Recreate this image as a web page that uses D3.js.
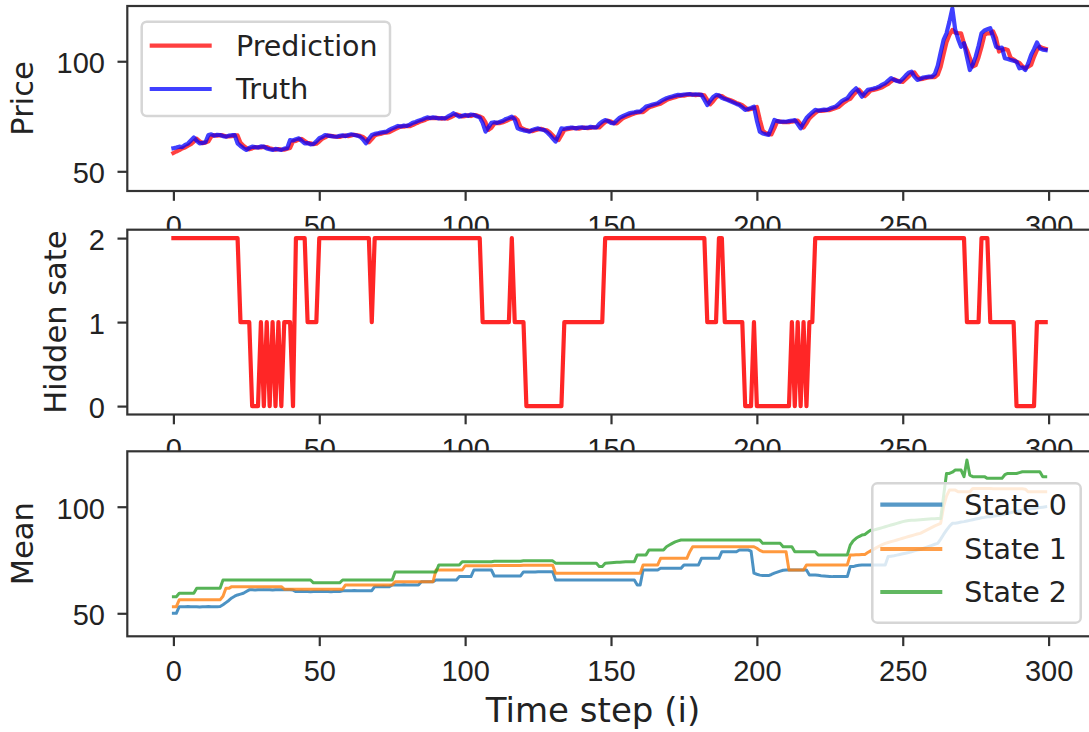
<!DOCTYPE html>
<html>
<head>
<title>HMM price prediction</title>
<script src="https://d3js.org/d3.v7.min.js"></script>
<style>
    body { margin: 0; background: white; }
    svg { display: block; width: 1089px; height: 732px; font-family: 'DejaVu Sans', sans-serif; }
    .spine { fill: none; stroke: #333; stroke-width: 2.2; }
    .tick line { stroke: #333; stroke-width: 2.2; }
    .tick text { fill: #222; font-size: 29px; }
</style>
</head>
<body>
<svg></svg>
<script>
// values, one per time step (0..299)
let truth = [
    60.5, 60.8, 61.2, 61.0, 62.0, 62.6, 64.0, 65.4, 63.8, 62.7,
    62.9, 63.2, 66.5, 66.8, 66.2, 66.6, 66.5, 66.0, 65.7, 66.2,
    66.4, 66.5, 62.7, 61.5, 60.5, 59.7, 60.6, 61.2, 61.0, 60.8,
    61.3, 61.2, 60.4, 60.0, 59.7, 60.2, 59.9, 59.7, 60.3, 60.5,
    64.2, 64.0, 64.6, 65.0, 63.8, 62.7, 62.8, 62.2, 62.4, 63.6,
    65.0, 65.6, 66.5, 66.2, 66.0, 65.8, 65.7, 66.1, 66.3, 66.0,
    66.5, 66.8, 66.5, 66.2, 65.7, 64.5, 62.7, 64.8, 66.5, 67.0,
    67.2, 67.6, 67.8, 68.0, 68.8, 69.5, 70.0, 70.6, 70.4, 70.8,
    70.6, 71.2, 72.0, 72.4, 73.0, 73.4, 74.0, 74.5, 74.2, 74.5,
    74.3, 74.0, 74.2, 74.0, 74.8, 75.5, 76.4, 75.6, 74.8, 75.2,
    75.6, 75.2, 75.8, 75.6, 75.0, 74.5, 72.0, 68.0, 70.0, 72.0,
    72.3, 72.0, 72.5, 73.0, 73.8, 74.2, 74.8, 73.5, 69.5, 69.0,
    68.6, 68.4, 68.0, 68.8, 69.2, 69.5, 69.0, 68.8, 67.8, 66.5,
    65.0, 63.5, 66.5, 69.5, 69.3, 69.6, 69.8, 69.8, 69.5, 69.9,
    70.0, 69.7, 69.8, 70.2, 70.0, 70.0, 71.5, 72.6, 73.3, 72.8,
    72.0, 71.8, 73.2, 74.4, 75.0, 75.6, 76.2, 76.6, 76.8, 77.1,
    77.1, 78.2, 79.4, 79.8, 80.2, 80.6, 80.9, 81.8, 82.6, 83.2,
    83.6, 84.0, 84.4, 84.7, 84.6, 84.9, 85.0, 85.1, 84.8, 85.0,
    84.9, 84.7, 82.5, 80.1, 82.0, 83.8, 84.7, 84.5, 83.4, 82.8,
    82.4, 81.8, 81.2, 80.6, 80.1, 79.0, 77.9, 78.3, 78.8, 79.4,
    73.0, 68.0, 67.2, 66.8, 66.5, 69.8, 73.3, 72.8, 72.5, 72.6,
    72.5, 72.8, 73.0, 73.3, 71.5, 69.5, 72.0, 74.2, 75.6, 76.8,
    77.9, 77.6, 77.8, 78.0, 77.9, 78.5, 79.0, 79.4, 80.6, 81.8,
    82.6, 83.2, 85.0, 86.5, 87.7, 86.0, 83.9, 85.5, 87.0, 87.3,
    87.6, 88.0, 88.5, 89.4, 90.0, 91.2, 92.3, 91.6, 91.0, 90.7,
    92.0, 93.5, 94.8, 95.3, 93.0, 91.5, 92.0, 92.6, 92.8, 93.0,
    93.0, 94.2, 98.0, 104.0, 109.7, 112.7, 118.0, 124.0, 114.2, 110.0,
    106.6, 108.2, 102.0, 96.0, 98.5, 102.1, 107.0, 112.7, 114.0, 114.5,
    115.0, 111.0, 106.6, 106.0, 106.2, 101.4, 101.0, 100.6, 100.2, 99.8,
    96.8, 97.2, 96.0, 99.0, 102.9, 105.5, 108.5, 105.9, 105.3, 105.1
];
let prediction = [
    58.3, 59.0, 59.6, 60.4, 60.8, 61.6, 62.3, 63.5, 64.8, 63.6,
    62.8, 63.0, 63.6, 65.8, 66.4, 66.2, 66.4, 66.3, 65.9, 65.8,
    66.0, 66.3, 66.3, 63.0, 61.6, 60.6, 60.0, 60.4, 60.9, 60.9,
    60.8, 61.1, 61.0, 60.5, 60.1, 59.8, 60.1, 59.9, 59.8, 60.2,
    60.6, 63.6, 63.8, 64.4, 64.7, 63.8, 62.9, 62.7, 62.3, 62.5,
    63.5, 64.8, 65.4, 66.2, 66.1, 65.9, 65.7, 65.6, 66.0, 66.2,
    66.0, 66.3, 66.6, 66.4, 66.1, 65.6, 64.6, 63.2, 64.6, 66.2,
    66.8, 67.0, 67.4, 67.6, 67.8, 68.5, 69.2, 69.8, 70.3, 70.3,
    70.6, 70.5, 71.0, 71.7, 72.2, 72.8, 73.2, 73.8, 74.2, 74.1,
    74.3, 74.2, 73.9, 74.1, 73.9, 74.5, 75.2, 75.9, 75.5, 74.9,
    75.1, 75.4, 75.1, 75.6, 75.4, 74.9, 74.3, 72.2, 68.8, 69.8,
    71.6, 72.0, 71.9, 72.3, 72.8, 73.5, 74.0, 74.5, 73.3, 70.0,
    69.2, 68.7, 68.4, 68.2, 68.6, 69.0, 69.3, 68.9, 68.6, 67.7,
    66.4, 65.0, 64.2, 66.4, 68.8, 69.1, 69.4, 69.6, 69.6, 69.4,
    69.7, 69.8, 69.6, 69.7, 70.0, 69.9, 69.9, 71.2, 72.3, 73.0,
    72.6, 71.9, 71.8, 72.9, 74.0, 74.7, 75.2, 75.8, 76.3, 76.6,
    76.9, 76.9, 77.9, 79.0, 79.5, 79.9, 80.3, 80.7, 81.5, 82.3,
    82.9, 83.3, 83.7, 84.1, 84.4, 84.4, 84.7, 84.8, 84.9, 84.6,
    84.8, 84.7, 84.5, 82.4, 80.4, 81.8, 83.5, 84.3, 84.2, 83.3,
    82.7, 82.3, 81.7, 81.1, 80.6, 80.0, 79.0, 78.0, 78.3, 78.7,
    79.2, 73.5, 68.5, 67.4, 67.0, 66.8, 69.6, 72.8, 72.6, 72.3,
    72.4, 72.3, 72.6, 72.8, 73.0, 71.4, 69.9, 71.8, 74.0, 75.3,
    76.5, 77.5, 77.4, 77.6, 77.8, 77.8, 78.3, 78.8, 79.2, 80.3,
    81.4, 82.3, 82.9, 84.6, 86.0, 87.1, 85.6, 84.2, 85.3, 86.7,
    87.0, 87.3, 87.7, 88.2, 89.0, 89.7, 90.8, 91.8, 91.3, 90.8,
    90.6, 91.8, 93.1, 94.4, 94.9, 93.0, 91.8, 92.0, 92.4, 92.6,
    92.8, 92.8, 93.9, 97.5, 103.2, 108.6, 111.9, 114.2, 113.0, 112.8,
    112.7, 108.0, 105.1, 101.5, 97.6, 98.2, 101.8, 106.5, 111.9, 112.7,
    112.7, 113.5, 110.5, 104.4, 105.2, 105.6, 105.1, 101.5, 100.8, 99.8,
    99.2, 97.8, 96.8, 97.5, 98.3, 102.0, 105.0, 106.6, 106.0, 105.6
];
// hidden state as runs: [state, number of steps]
let hiddenRuns = [
    [2, 23], [1, 4], [0, 3],
    [1, 1], [0, 1], [1, 1], [0, 1], [1, 1], [0, 1], [1, 1], [0, 1],
    [1, 3], [0, 1], [2, 4], [1, 4], [2, 18], [1, 1], [2, 37], [1, 10],
    [2, 1], [1, 4], [0, 13], [1, 14], [2, 35], [1, 4], [2, 2], [1, 7],
    [0, 3], [1, 1], [0, 12],
    [1, 1], [0, 1], [1, 1], [0, 1], [1, 1], [0, 1],
    [1, 2], [2, 52], [1, 5], [2, 3], [1, 9], [0, 7], [1, 4]
];
let meanState0 = [
    50.0, 50.0, 53.1, 53.1, 53.1, 53.2, 53.1, 53.1, 53.1, 53.0,
    53.1, 53.1, 53.2, 53.1, 53.1, 53.1, 53.2, 54.0, 55.0, 56.0,
    57.2, 58.0, 58.6, 59.0, 59.4, 60.2, 61.0, 61.0, 60.9, 61.0,
    61.0, 61.1, 61.0, 61.0, 60.9, 61.0, 61.0, 61.0, 61.1, 61.0,
    61.0, 60.9, 60.2, 60.2, 60.3, 60.2, 60.2, 60.1, 60.2, 60.2,
    60.2, 60.3, 60.2, 60.2, 60.1, 60.2, 60.2, 60.2, 60.6, 60.6,
    60.6, 60.6, 60.7, 60.6, 60.6, 60.6, 60.6, 60.6, 60.6, 62.5,
    62.5, 62.5, 62.6, 62.5, 62.5, 63.3, 63.3, 63.3, 63.3, 63.4,
    63.3, 63.3, 63.3, 63.3, 63.3, 64.8, 64.8, 64.8, 64.8, 64.8,
    65.6, 65.6, 65.6, 65.6, 65.6, 65.6, 65.6, 65.6, 67.2, 67.2,
    67.2, 67.2, 67.2, 70.3, 70.3, 70.3, 70.3, 70.3, 70.3, 70.3,
    67.5, 67.5, 67.5, 67.5, 67.5, 67.5, 67.5, 67.5, 67.5, 67.5,
    69.4, 69.4, 69.4, 69.4, 69.4, 69.5, 69.5, 69.5, 69.5, 69.5,
    69.5, 65.6, 65.6, 65.6, 65.6, 65.6, 65.6, 65.6, 65.6, 65.6,
    65.6, 65.6, 65.6, 65.6, 65.6, 65.6, 65.6, 65.6, 65.6, 65.6,
    65.6, 65.6, 65.6, 65.6, 65.6, 65.6, 65.6, 65.6, 65.6, 63.3,
    63.3, 70.3, 70.3, 70.3, 70.3, 70.3, 70.3, 71.1, 71.1, 71.1,
    71.1, 71.1, 71.1, 71.1, 71.1, 72.7, 72.7, 72.7, 72.7, 72.7,
    72.7, 75.8, 75.8, 75.8, 75.8, 75.8, 75.8, 75.8, 78.9, 78.9,
    78.9, 78.9, 78.9, 78.9, 79.7, 79.7, 79.7, 79.7, 79.2, 68.8,
    68.3, 67.9, 67.7, 67.7, 67.7, 68.2, 68.8, 69.3, 69.8, 70.2,
    70.3, 70.3, 70.3, 70.3, 70.3, 70.3, 70.3, 70.3, 68.0, 68.0,
    68.0, 67.8, 67.6, 67.5, 67.4, 67.3, 67.2, 67.2, 67.2, 67.2,
    67.2, 67.2, 71.9, 71.9, 72.3, 72.5, 72.6, 72.7, 72.7, 72.7,
    72.7, 72.7, 72.7, 72.7, 72.7, 76.6, 76.8, 77.0, 77.3, 77.6,
    77.9, 78.2, 78.5, 78.9, 79.3, 79.7, 79.9, 80.4, 80.9, 81.4,
    81.9, 82.4, 82.8, 84.8, 87.0, 89.0, 90.8, 92.2, 92.2, 92.5,
    92.8, 93.0, 93.3, 93.6, 93.9, 94.2, 94.5, 94.8, 95.0, 95.3,
    95.3, 95.5, 95.8, 96.0, 96.3, 96.6, 96.9, 97.2, 97.5, 97.8,
    98.1, 98.4, 98.6, 98.8, 99.0, 99.2, 99.4, 99.6, 99.8, 100.0
];
let meanState1 = [
    53.1, 53.1, 56.3, 56.3, 56.3, 56.3, 56.3, 56.3, 56.3, 56.3,
    56.3, 56.3, 56.3, 56.3, 56.3, 56.3, 56.3, 58.0, 61.7, 61.7,
    62.5, 62.5, 62.5, 62.5, 62.5, 62.5, 62.5, 62.5, 62.5, 62.5,
    62.5, 62.5, 62.5, 62.5, 62.5, 62.5, 62.5, 62.5, 61.3, 61.3,
    61.3, 61.3, 61.3, 61.3, 61.3, 61.3, 61.3, 61.3, 61.3, 61.3,
    61.3, 61.3, 61.3, 61.3, 61.3, 61.3, 61.3, 61.3, 61.3, 63.3,
    63.3, 63.3, 63.3, 63.3, 63.3, 63.3, 63.3, 63.3, 63.3, 63.3,
    63.3, 63.3, 63.3, 63.3, 63.3, 63.3, 64.8, 64.8, 64.8, 64.8,
    64.8, 64.8, 64.8, 64.8, 64.8, 64.8, 64.8, 64.8, 64.8, 64.8,
    70.3, 70.3, 70.3, 70.3, 70.3, 70.3, 70.3, 70.3, 70.3, 70.3,
    72.3, 72.3, 72.3, 72.3, 72.3, 72.3, 72.3, 72.3, 72.3, 72.3,
    72.4, 72.4, 72.4, 72.4, 72.4, 72.4, 72.4, 72.4, 72.4, 72.4,
    72.5, 72.5, 72.5, 72.5, 72.5, 72.5, 72.5, 72.5, 72.5, 72.5,
    72.5, 68.8, 68.8, 68.8, 68.8, 68.8, 68.8, 68.8, 68.8, 68.8,
    68.8, 68.8, 68.8, 68.8, 68.8, 68.8, 68.8, 68.8, 68.8, 68.8,
    68.8, 68.8, 68.8, 68.8, 68.8, 68.8, 68.8, 68.8, 68.8, 68.8,
    68.8, 72.7, 72.7, 72.7, 72.7, 72.7, 72.7, 75.8, 75.8, 75.8,
    75.8, 75.8, 75.8, 75.8, 75.8, 75.8, 75.8, 78.9, 81.2, 81.2,
    81.2, 81.2, 81.2, 81.2, 81.2, 81.2, 81.2, 81.2, 81.2, 81.2,
    81.2, 81.2, 81.2, 81.2, 81.2, 81.2, 81.2, 81.2, 81.2, 81.2,
    80.5, 79.5, 78.9, 78.9, 78.9, 78.9, 78.9, 78.9, 78.9, 78.9,
    78.9, 70.3, 70.3, 70.3, 70.3, 70.3, 70.3, 72.7, 72.7, 72.7,
    72.7, 72.7, 72.7, 72.7, 72.7, 72.7, 72.7, 72.7, 72.7, 72.7,
    72.7, 72.7, 77.4, 77.4, 77.5, 77.5, 77.6, 77.6, 78.5, 79.3,
    80.0, 80.8, 81.5, 82.2, 82.8, 83.2, 83.6, 84.0, 84.4, 84.8,
    85.2, 85.6, 86.0, 86.4, 86.8, 87.2, 87.5, 88.2, 88.9, 89.6,
    90.3, 91.0, 91.6, 92.2, 100.0, 105.0, 107.8, 107.8, 107.8, 107.0,
    107.0, 107.0, 107.0, 107.0, 108.6, 108.6, 108.6, 108.6, 108.6, 108.6,
    108.6, 108.4, 108.4, 108.4, 108.4, 108.4, 108.4, 108.4, 108.4, 108.4,
    108.4, 108.4, 108.2, 107.0, 107.0, 107.0, 107.0, 107.0, 107.0, 107.0
];
let meanState2 = [
    57.8, 57.8, 59.4, 59.4, 59.4, 59.4, 59.4, 59.4, 61.7, 61.7,
    61.7, 61.7, 61.7, 61.7, 61.7, 61.7, 61.7, 65.6, 65.6, 65.6,
    65.6, 65.6, 65.6, 65.6, 65.6, 65.6, 65.6, 65.6, 65.6, 65.6,
    65.6, 65.6, 65.6, 65.6, 65.6, 65.6, 65.6, 65.6, 65.6, 65.6,
    65.6, 65.6, 65.6, 65.6, 65.6, 65.6, 65.6, 65.6, 64.3, 64.3,
    64.3, 64.3, 64.3, 64.3, 64.3, 64.3, 64.3, 64.3, 65.6, 65.6,
    65.6, 65.6, 65.6, 65.6, 65.6, 65.6, 65.6, 65.6, 65.6, 65.6,
    65.6, 65.6, 65.6, 65.6, 65.6, 65.6, 69.4, 69.4, 69.4, 69.4,
    69.4, 69.4, 69.4, 69.4, 69.4, 69.4, 69.4, 69.4, 69.4, 69.4,
    69.4, 72.7, 72.7, 72.7, 72.7, 72.7, 72.7, 72.7, 72.7, 74.2,
    74.2, 74.2, 74.2, 74.2, 74.2, 74.2, 74.2, 74.2, 74.2, 74.2,
    74.4, 74.4, 74.4, 74.4, 74.4, 74.4, 74.4, 74.4, 74.4, 74.4,
    74.6, 74.6, 74.6, 74.6, 74.6, 74.6, 74.6, 74.6, 74.6, 74.6,
    74.6, 73.5, 73.5, 73.5, 73.5, 73.5, 73.5, 73.5, 73.5, 73.5,
    73.5, 73.5, 73.5, 73.5, 73.5, 73.5, 71.9, 71.9, 73.5, 73.6,
    73.7, 73.8, 73.9, 74.0, 74.1, 74.2, 74.2, 74.2, 74.2, 77.4,
    77.4, 77.4, 77.4, 79.7, 79.7, 79.7, 79.7, 79.7, 79.7, 81.2,
    82.0, 82.8, 83.5, 84.0, 84.4, 84.4, 84.4, 84.4, 84.4, 84.4,
    84.4, 84.4, 84.4, 84.4, 84.4, 84.4, 84.4, 84.4, 84.4, 84.4,
    84.4, 84.4, 84.4, 84.4, 84.4, 84.4, 84.4, 84.4, 84.4, 84.4,
    84.4, 84.4, 82.8, 82.8, 82.8, 82.8, 82.8, 82.8, 82.8, 81.2,
    81.2, 81.2, 81.2, 78.9, 78.9, 78.9, 78.9, 78.9, 78.9, 78.9,
    78.9, 77.4, 77.4, 77.4, 77.4, 77.4, 77.4, 77.4, 77.4, 77.4,
    77.4, 77.4, 82.0, 84.0, 85.2, 86.0, 86.7, 87.0, 88.0, 89.0,
    89.0, 89.4, 89.8, 90.2, 90.6, 91.0, 91.4, 91.8, 92.2, 92.6,
    93.0, 93.3, 93.5, 93.7, 93.7, 93.8, 93.9, 94.0, 94.1, 94.2,
    94.3, 94.4, 94.5, 94.5, 105.0, 115.6, 115.6, 116.2, 117.2, 117.2,
    117.2, 114.1, 121.9, 114.8, 114.1, 114.1, 114.1, 114.1, 114.1, 113.3,
    113.3, 113.3, 113.3, 113.3, 113.3, 115.0, 115.6, 115.6, 115.6, 115.6,
    116.0, 116.4, 116.4, 116.4, 116.4, 116.4, 116.4, 116.4, 114.1, 114.1
];
let xTicks = [0, 50, 100, 150, 200, 250, 300];
let priceTicks = [50, 100];
let stateTicks = [0, 1, 2];
let meanTicks = [50, 100];
let priceLabels = ['Prediction', 'Truth'];
let meanLabels = ['State 0', 'State 1', 'State 2'];

let hidden = [];
hiddenRuns.forEach(([s, n]) => { for (let k = 0; k < n; k++) hidden.push(s); });

let svg = d3.select('svg');
let left = 127.3, right = 1095;
let x = d3.scaleLinear().domain([-15.8, 315.9]).range([left, right]);

function panel(id, top, bottom, domain, ticks, label, labelX, series) {
    let y = d3.scaleLinear().domain(domain).range([bottom, top]);
    let g = svg.append('g');
    g.append('rect')
        .attr('x', left).attr('y', top)
        .attr('width', right - left).attr('height', bottom - top)
        .attr('fill', 'white');
    g.append('clipPath').attr('id', id)
        .append('rect')
        .attr('x', left).attr('y', top)
        .attr('width', right - left).attr('height', bottom - top);

    let line = d3.line().x((d, i) => x(i)).y(d => y(d));
    g.append('g').attr('clip-path', `url(#${id})`)
        .selectAll('path')
        .data(series)
        .join('path')
        .attr('d', s => line(s.values))
        .attr('fill', 'none')
        .attr('stroke', s => s.color)
        .attr('stroke-opacity', s => s.alpha)
        .attr('stroke-width', s => s.width)
        .attr('stroke-linejoin', 'round')
        .attr('stroke-linecap', 'square');

    let xa = g.append('g')
        .attr('transform', `translate(0,${bottom})`)
        .call(d3.axisBottom(x).tickValues(xTicks).tickFormat(d3.format('d')).tickSize(9.8).tickPadding(14.6));
    xa.select('.domain').remove();

    let ya = g.append('g')
        .attr('transform', `translate(${left},0)`)
        .call(d3.axisLeft(y).tickValues(ticks).tickFormat(d3.format('d')).tickSize(9.8).tickPadding(12.5));
    ya.select('.domain').remove();
    ya.selectAll('text').attr('dy', '0.4em');
    g.selectAll('.tick text').attr('font-family', null).attr('font-size', null);

    g.append('rect').attr('class', 'spine')
        .attr('x', left).attr('y', top)
        .attr('width', right - left).attr('height', bottom - top);

    g.append('text')
        .attr('transform', `translate(${labelX},${(top + bottom) / 2}) rotate(-90)`)
        .attr('text-anchor', 'middle')
        .attr('font-size', 30.5)
        .attr('fill', '#222')
        .text(label);
    return g;
}

function legend(g, box, entries) {
    g.append('rect')
        .attr('x', box.x).attr('y', box.y)
        .attr('width', box.w).attr('height', box.h)
        .attr('rx', 5)
        .attr('fill', 'white').attr('fill-opacity', 0.8)
        .attr('stroke', '#d6d6d6').attr('stroke-width', 2.5);
    entries.forEach((e, i) => {
        let cy = box.rows[i];
        g.append('line')
            .attr('x1', box.x + 8).attr('x2', box.x + 70)
            .attr('y1', cy).attr('y2', cy)
            .attr('stroke', e.color).attr('stroke-opacity', 0.75)
            .attr('stroke-width', 4.2);
        g.append('text')
            .attr('x', box.textX).attr('y', cy + 10.3)
            .attr('font-size', 28.5)
            .attr('fill', '#222')
            .text(e.label);
    });
}

let priceSeries = [
    {values: prediction, color: 'red', alpha: 0.75, width: 4.2},
    {values: truth, color: 'blue', alpha: 0.75, width: 4.2}
];
let p1 = panel('c1', 6, 191, [41.05, 125.1], priceTicks, 'Price', 33, priceSeries);
legend(p1, {x: 141.7, y: 21.7, w: 248.3, h: 94.3, rows: [45.7, 89], textX: 236},
    priceSeries.map((s, i) => ({color: s.color, label: priceLabels[i]})));

panel('c2', 229.7, 414.5, [-0.1, 2.1], stateTicks, 'Hidden sate', 66,
    [{values: hidden, color: 'red', alpha: 0.85, width: 4.2}]);

let meanColors = ['#1f77b4', '#ff7f0e', '#2ca02c'];
let meanSeries = [meanState0, meanState1, meanState2]
    .map((v, i) => ({values: v, color: meanColors[i], alpha: 0.8, width: 3}));
let p3 = panel('c3', 451.3, 636.3, [39.2, 126], meanTicks, 'Mean', 33, meanSeries);
legend(p3, {x: 872.3, y: 483.3, w: 208.4, h: 139.4, rows: [504.7, 549, 592], textX: 964.3},
    meanSeries.map((s, i) => ({color: s.color, label: meanLabels[i]})));

svg.append('text')
    .attr('x', 593).attr('y', 722)
    .attr('text-anchor', 'middle')
    .attr('font-size', 34)
    .attr('fill', '#222')
    .text('Time step (i)');
</script>
</body>
</html>
